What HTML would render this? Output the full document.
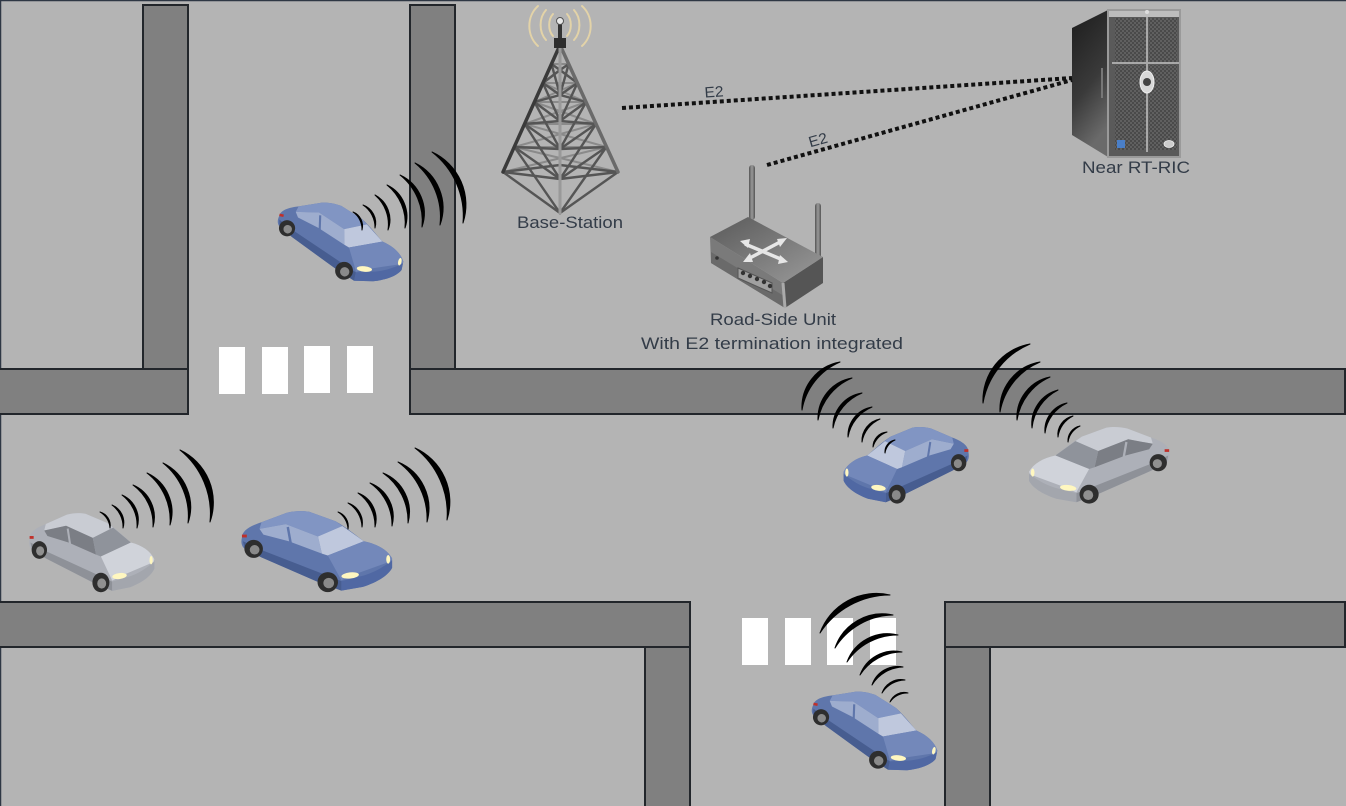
<!DOCTYPE html>
<html><head><meta charset="utf-8"><style>
html,body{margin:0;padding:0;background:#b4b4b4;}
svg{display:block;}
</style></head><body>
<svg width="1346" height="806" viewBox="0 0 1346 806" xmlns="http://www.w3.org/2000/svg">
<defs>
  <linearGradient id="srvSide" x1="0" y1="0" x2="0.3" y2="1">
    <stop offset="0" stop-color="#1c1c1c"/><stop offset="0.6" stop-color="#3a3a3a"/><stop offset="1" stop-color="#6a6a6a"/>
  </linearGradient>
  <pattern id="mesh" width="4" height="4" patternUnits="userSpaceOnUse">
    <rect width="4" height="4" fill="#4a4a4a"/><rect width="2" height="2" fill="#606060"/><rect x="2" y="2" width="2" height="2" fill="#606060"/>
  </pattern>
  <linearGradient id="rtTop" x1="0" y1="0" x2="1" y2="1">
    <stop offset="0" stop-color="#5a5a5a"/><stop offset="1" stop-color="#9a9a9a"/>
  </linearGradient>
  <linearGradient id="ant" x1="0" y1="0" x2="1" y2="0">
    <stop offset="0" stop-color="#555"/><stop offset="0.5" stop-color="#9a9a9a"/><stop offset="1" stop-color="#555"/>
  </linearGradient>
  <g id="carB">
    <path d="M2,31 C2,24 10,19 22,15 L48,5 C56,3 64,3 71,4 L98,14 C110,21 119,29 127,35 C141,38 151,44 156,53 L156,63 C152,71 141,78 126,83 L104,87 L78,77 L22,52 L5,43 C1,40 1,35 2,31 Z" fill="#5f76ab"/>
    <path d="M3,35 L24,45 L84,69 L104,77 L104,87 L78,77 L22,52 L5,43 Z" fill="#475d90"/>
    <path d="M104,77 L127,71 C140,67 150,60 156,55 L156,63 C152,71 141,78 126,83 L104,87 Z" fill="#5068a3"/>
    <path d="M22,15 L48,5 C56,3 64,3 71,4 L98,14 L105,19 L80,30 L47,17 L20,22 Z" fill="#8195c3"/>
    <path d="M20,22 L47,17 L80,30 L84,48 L50,35 L24,28 Z" fill="#9eadce"/>
    <path d="M49,20 L52,37" stroke="#5f76ab" stroke-width="2.5"/>
    <path d="M80,30 L105,19 L127,35 L90,50 L84,48 Z" fill="#bfc8dd"/>
    <path d="M90,50 L127,35 C141,38 151,44 156,53 L155,56 L120,69 L104,76 Z" fill="#7388ba"/>
    <ellipse cx="113" cy="71" rx="9" ry="3.2" fill="#fff7c0" transform="rotate(-6 113 71)"/>
    <ellipse cx="152" cy="54" rx="2" ry="4.5" fill="#fff7c0"/>
    <rect x="2" y="28" width="5" height="3" fill="#c0302a"/>
    <circle cx="14" cy="43" r="9.5" fill="#2e2e2e"/><circle cx="15" cy="44" r="5" fill="#8a8a8a"/>
    <circle cx="90" cy="78" r="10.5" fill="#2e2e2e"/><circle cx="91" cy="79" r="5.5" fill="#8a8a8a"/>
  </g>
  <g id="carG">
    <path d="M2,31 C2,24 10,19 22,15 L48,5 C56,3 64,3 71,4 L98,14 C110,21 119,29 127,35 C141,38 151,44 156,53 L156,63 C152,71 141,78 126,83 L104,87 L78,77 L22,52 L5,43 C1,40 1,35 2,31 Z" fill="#adb0b8"/>
    <path d="M3,35 L24,45 L84,69 L104,77 L104,87 L78,77 L22,52 L5,43 Z" fill="#8e9198"/>
    <path d="M104,77 L127,71 C140,67 150,60 156,55 L156,63 C152,71 141,78 126,83 L104,87 Z" fill="#a3a6ad"/>
    <path d="M22,15 L48,5 C56,3 64,3 71,4 L98,14 L105,19 L80,30 L47,17 L20,22 Z" fill="#c9ccd3"/>
    <path d="M20,22 L47,17 L80,30 L84,48 L50,35 L24,28 Z" fill="#7b7e85"/>
    <path d="M49,20 L52,37" stroke="#adb0b8" stroke-width="2.5"/>
    <path d="M80,30 L105,19 L127,35 L90,50 L84,48 Z" fill="#8f939b"/>
    <path d="M90,50 L127,35 C141,38 151,44 156,53 L155,56 L120,69 L104,76 Z" fill="#d0d3da"/>
    <ellipse cx="113" cy="71" rx="9" ry="3.2" fill="#fff7c0" transform="rotate(-6 113 71)"/>
    <ellipse cx="152" cy="54" rx="2" ry="4.5" fill="#fff7c0"/>
    <rect x="2" y="28" width="5" height="3" fill="#c0302a"/>
    <circle cx="14" cy="43" r="9.5" fill="#2e2e2e"/><circle cx="15" cy="44" r="5" fill="#909090"/>
    <circle cx="90" cy="78" r="10.5" fill="#2e2e2e"/><circle cx="91" cy="79" r="5.5" fill="#909090"/>
  </g>
</defs>

<rect x="0" y="0" width="1346" height="806" fill="#b4b4b4"/>
<path d="M0.5,806 L0.5,0.5 L1346,0.5" fill="none" stroke="#2e3744" stroke-width="1.5"/>

<g fill="#808080" stroke="#22262b" stroke-width="2">
  <rect x="143" y="5" width="45" height="364"/>
  <rect x="410" y="5" width="45" height="364"/>
  <rect x="-2" y="369" width="190" height="45"/>
  <rect x="410" y="369" width="935" height="45"/>
  <rect x="645" y="647" width="45" height="170"/>
  <rect x="-2" y="602" width="692" height="45"/>
  <rect x="945" y="647" width="45" height="170"/>
  <rect x="945" y="602" width="400" height="45"/>
</g>

<g fill="#ffffff">
  <rect x="219" y="347" width="26" height="47"/>
  <rect x="262" y="347" width="26" height="47"/>
  <rect x="304" y="346" width="26" height="47"/>
  <rect x="347" y="346" width="26" height="47"/>
  <rect x="742" y="618" width="26" height="47"/>
  <rect x="785" y="618" width="26" height="47"/>
  <rect x="827" y="618" width="26" height="47"/>
  <rect x="870" y="618" width="26" height="47"/>
</g>

<use href="#carB" transform="translate(283,190) rotate(12) scale(0.85)"/>
<use href="#carG" transform="translate(28,510) scale(0.81,0.93)"/>
<use href="#carB" transform="translate(240,508) scale(0.975,0.95)"/>
<use href="#carB" transform="translate(970,424) scale(-0.81,0.9)"/>
<use href="#carG" transform="translate(1171,424) scale(-0.91,0.9)"/>
<use href="#carB" transform="translate(817,679) rotate(12) scale(0.85)"/>

<g fill="#000" stroke="#000" stroke-width="1" stroke-linejoin="round">
  <path d="M353,212 A15,15 0 0 1 362,230 A21,21 0 0 0 353,212 Z"/>
  <path d="M363,205 A19,19 0 0 1 375,228 A27,27 0 0 0 363,205 Z"/>
  <path d="M375,195 A28,28 0 0 1 388,230 A39,39 0 0 0 375,195 Z"/>
  <path d="M387,185 A35,35 0 0 1 405,228 A49,49 0 0 0 387,185 Z"/>
  <path d="M400,175 A42,42 0 0 1 422,227 A59,59 0 0 0 400,175 Z"/>
  <path d="M415,163 A50,50 0 0 1 440,225 A70,70 0 0 0 415,163 Z"/>
  <path d="M432,152 A58,58 0 0 1 463,223 A81,81 0 0 0 432,152 Z"/>
  <path d="M100,512 A14,14 0 0 1 110,528 A20,20 0 0 0 100,512 Z"/>
  <path d="M112,505 A19,19 0 0 1 123,528 A27,27 0 0 0 112,505 Z"/>
  <path d="M122,495 A27,27 0 0 1 137,528 A38,38 0 0 0 122,495 Z"/>
  <path d="M133,485 A35,35 0 0 1 153,527 A49,49 0 0 0 133,485 Z"/>
  <path d="M147,473 A43,43 0 0 1 170,525 A60,60 0 0 0 147,473 Z"/>
  <path d="M163,463 A49,49 0 0 1 188,523 A68,68 0 0 0 163,463 Z"/>
  <path d="M180,450 A58,58 0 0 1 210,522 A82,82 0 0 0 180,450 Z"/>
  <path d="M338,512 A15,15 0 0 1 348,529 A21,21 0 0 0 338,512 Z"/>
  <path d="M348,503 A21,21 0 0 1 362,527 A29,29 0 0 0 348,503 Z"/>
  <path d="M358,493 A28,28 0 0 1 375,527 A40,40 0 0 0 358,493 Z"/>
  <path d="M370,483 A36,36 0 0 1 392,526 A51,51 0 0 0 370,483 Z"/>
  <path d="M383,473 A42,42 0 0 1 408,523 A59,59 0 0 0 383,473 Z"/>
  <path d="M398,462 A50,50 0 0 1 427,522 A70,70 0 0 0 398,462 Z"/>
  <path d="M415,448 A59,59 0 0 1 447,520 A83,83 0 0 0 415,448 Z"/>
  <path d="M802,410 A46,46 0 0 1 840,362 A64,64 0 0 0 802,410 Z"/>
  <path d="M818,420 A41,41 0 0 1 852,378 A57,57 0 0 0 818,420 Z"/>
  <path d="M833,428 A34,34 0 0 1 862,393 A48,48 0 0 0 833,428 Z"/>
  <path d="M848,437 A29,29 0 0 1 872,407 A40,40 0 0 0 848,437 Z"/>
  <path d="M862,442 A22,22 0 0 1 880,419 A31,31 0 0 0 862,442 Z"/>
  <path d="M873,447 A15,15 0 0 1 887,432 A22,22 0 0 0 873,447 Z"/>
  <path d="M885,453 A12,12 0 0 1 895,440 A17,17 0 0 0 885,453 Z"/>
  <path d="M983,403 A57,57 0 0 1 1030,344 A79,79 0 0 0 983,403 Z"/>
  <path d="M1000,412 A48,48 0 0 1 1040,362 A67,67 0 0 0 1000,412 Z"/>
  <path d="M1017,420 A41,41 0 0 1 1050,377 A57,57 0 0 0 1017,420 Z"/>
  <path d="M1032,428 A35,35 0 0 1 1058,390 A48,48 0 0 0 1032,428 Z"/>
  <path d="M1045,433 A28,28 0 0 1 1067,403 A39,39 0 0 0 1045,433 Z"/>
  <path d="M1058,437 A19,19 0 0 1 1073,416 A27,27 0 0 0 1058,437 Z"/>
  <path d="M1068,442 A15,15 0 0 1 1080,426 A21,21 0 0 0 1068,442 Z"/>
  <path d="M820,633 A60,60 0 0 1 890,595 A84,84 0 0 0 820,633 Z"/>
  <path d="M835,648 A50,50 0 0 1 893,615 A70,70 0 0 0 835,648 Z"/>
  <path d="M847,662 A43,43 0 0 1 898,635 A61,61 0 0 0 847,662 Z"/>
  <path d="M860,675 A36,36 0 0 1 902,652 A50,50 0 0 0 860,675 Z"/>
  <path d="M872,685 A27,27 0 0 1 903,667 A38,38 0 0 0 872,685 Z"/>
  <path d="M882,693 A20,20 0 0 1 905,680 A28,28 0 0 0 882,693 Z"/>
  <path d="M890,702 A15,15 0 0 1 908,693 A21,21 0 0 0 890,702 Z"/>
</g>

<g fill="none" stroke-linecap="round">
  <g stroke="#e3d3a8" stroke-width="2">
    <path d="M553,14 A10,14 0 0 0 553,36"/><path d="M567,14 A10,14 0 0 1 567,36"/>
    <path d="M546,10 A16,20 0 0 0 546,40"/><path d="M574,10 A16,20 0 0 1 574,40"/>
    <path d="M538,6 A24,26 0 0 0 538,46"/><path d="M582,6 A24,26 0 0 1 582,46"/>
  </g>
  <g stroke="#8a8a8a" stroke-width="2">
    <path d="M551.5,64 L568.7,64 M542.9,83 L577.4,83 M534.4,102 L586.1,102 M524.7,124 L596,124 M514.4,147 L606.4,147"/>
    <path d="M551.5,64 L577.4,83 M568.7,64 L542.9,83 M542.9,83 L586.1,102 M577.4,83 L534.4,102 M534.4,102 L596,124 M586.1,102 L524.7,124 M524.7,124 L606.4,147 M596,124 L514.4,147 M514.4,147 L618,172 M606.4,147 L503,172"/>
  </g>
  <g stroke="#555" stroke-width="2.4">
    <path d="M551.5,64 L560,70 L568.7,64 M542.9,83 L560,95 L577.4,83 M534.4,102 L560,121 L586.1,102 M524.7,124 L560,149 L596,124 M514.4,147 L560,179 L606.4,147 M503,172 L560,165 L618,172"/>
    <path d="M551.5,64 L560,95 L568.7,64 M542.9,83 L560,121 L577.4,83 M534.4,102 L560,149 L586.1,102 M524.7,124 L560,179 L596,124 M514.4,147 L560,213 L606.4,147"/>
    <path d="M560,70 L542.9,83 M560,70 L577.4,83 M560,95 L534.4,102 M560,95 L586.1,102 M560,121 L524.7,124 M560,121 L596,124 M560,149 L514.4,147 M560,149 L606.4,147 M560,179 L503,172 M560,179 L618,172"/>
    <path d="M503,172 L560,213 L618,172"/>
  </g>
  <path d="M560,45 L503,172" stroke="#3a3a3a" stroke-width="3.5"/>
  <path d="M560,45 L618,172" stroke="#6a6a6a" stroke-width="3.5"/>
  <path d="M560,45 L560,213" stroke="#999" stroke-width="3"/>
  <path d="M560,40 L560,22" stroke="#333" stroke-width="4"/>
</g>
<rect x="554" y="38" width="12" height="10" fill="#2e2e2e"/>
<circle cx="560" cy="21" r="3.5" fill="#e8e8e8" stroke="#555" stroke-width="1"/>

<g>
  <rect x="749" y="165" width="6" height="55" rx="3" fill="url(#ant)"/>
  <rect x="815" y="203" width="6" height="58" rx="3" fill="url(#ant)"/>
  <polygon points="710,237 783,283 785,308 711,263" fill="#7a7a7a"/>
  <polygon points="711,252 784,296 785,308 711,263" fill="#6a6a6a"/>
  <polygon points="783,283 823,257 823,283 785,308" fill="#555"/>
  <polygon points="710,237 748,217 823,257 783,283" fill="url(#rtTop)"/>
  <path d="M783,283 L785,308" stroke="#aaa" stroke-width="3"/>
  <g stroke="#e6e6e6" stroke-width="3.5" fill="none">
    <path d="M745,244 L783,260"/>
    <path d="M748,259 L782,241"/>
  </g>
  <g fill="#e6e6e6">
    <polygon points="740,241 750,239 748,248"/>
    <polygon points="788,262 778,264 780,255"/>
    <polygon points="743,262 750,253 753,262"/>
    <polygon points="787,238 780,247 777,239"/>
  </g>
  <polygon points="738,268 772,283 772,293 738,278" fill="#a0a0a0" stroke="#555" stroke-width="1"/>
  <g fill="#333">
    <circle cx="743" cy="273" r="2.2"/><circle cx="750" cy="276" r="2.2"/><circle cx="757" cy="279" r="2.2"/><circle cx="764" cy="282" r="2.2"/><circle cx="770" cy="286" r="2.2"/>
  </g>
  <circle cx="717" cy="258" r="1.8" fill="#333"/>
</g>

<g>
  <polygon points="1072,28 1108,10 1108,157 1072,135" fill="url(#srvSide)"/>
  <path d="M1102,68 L1102,98" stroke="#777" stroke-width="2"/>
  <rect x="1108" y="10" width="72" height="147" fill="#5a5a5a" stroke="#9a9a9a" stroke-width="2"/>
  <rect x="1109" y="11" width="70" height="6" fill="#bdbdbd"/>
  <rect x="1115" y="18" width="31" height="44" fill="url(#mesh)"/>
  <rect x="1149" y="18" width="28" height="44" fill="url(#mesh)"/>
  <rect x="1115" y="65" width="31" height="85" fill="url(#mesh)"/>
  <rect x="1149" y="65" width="28" height="85" fill="url(#mesh)"/>
  <path d="M1147,17 L1147,152 M1112,63 L1179,63" stroke="#a8a8a8" stroke-width="2"/>
  <ellipse cx="1147" cy="82" rx="7" ry="11" fill="#d8d8d8" stroke="#f0f0f0" stroke-width="1"/>
  <ellipse cx="1147" cy="82" rx="4" ry="4" fill="#444"/>
  <rect x="1117" y="140" width="8" height="8" fill="#4a7fc8"/>
  <ellipse cx="1169" cy="144" rx="5" ry="3.5" fill="#ccc" stroke="#eee" stroke-width="0.8"/>
  <circle cx="1147" cy="12" r="2" fill="#ddd"/>
</g>

<g stroke="#111" stroke-width="4" stroke-dasharray="4 3" fill="none">
  <path d="M622,108 L1072,78"/>
  <path d="M767,165 L1072,80"/>
</g>

<g font-family="'Liberation Sans', sans-serif" fill="#333c48">
  <text x="714" y="97" font-size="15" text-anchor="middle" textLength="19" lengthAdjust="spacingAndGlyphs" transform="rotate(-4 714 92)">E2</text>
  <text x="818" y="145" font-size="15" text-anchor="middle" textLength="19" lengthAdjust="spacingAndGlyphs" transform="rotate(-16 818 140)">E2</text>
  <text x="570" y="228" font-size="17" text-anchor="middle" textLength="106" lengthAdjust="spacingAndGlyphs">Base-Station</text>
  <text x="773" y="325" font-size="17" text-anchor="middle" textLength="126" lengthAdjust="spacingAndGlyphs">Road-Side Unit</text>
  <text x="772" y="349" font-size="17" text-anchor="middle" textLength="262" lengthAdjust="spacingAndGlyphs">With E2 termination integrated</text>
  <text x="1136" y="173" font-size="17" text-anchor="middle" textLength="108" lengthAdjust="spacingAndGlyphs">Near RT-RIC</text>
</g>
</svg>
</body></html>
